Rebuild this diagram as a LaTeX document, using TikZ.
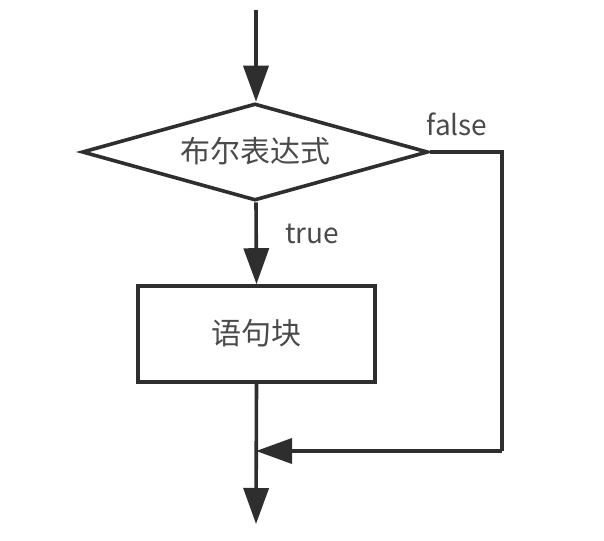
\documentclass[tikz,border=0pt]{standalone}
\usepackage{fontspec}
\setmainfont{Noto Sans CJK SC}
\usetikzlibrary{shapes.geometric,arrows.meta}
\definecolor{linec}{HTML}{2E2E2E}
\definecolor{textc}{HTML}{4A4A4A}
\newcommand{\ctrtext}[1]{\smash{\makebox[0pt]{\raisebox{-0.36em}{#1}}}}
\tikzset{
  flow/.style={draw=linec, line width=3.6pt},
  arr/.style={flow, -{Triangle[length=36pt,width=25pt]}},
  decbox/.style={diamond, draw=linec, line width=3.6pt, inner sep=0pt,
    minimum width=346pt, minimum height=97pt, text=textc,
    font=\fontsize{30pt}{33pt}\selectfont},
  blkbox/.style={rectangle, draw=linec, line width=3.6pt, inner sep=0pt,
    minimum width=237pt, minimum height=96pt, text=textc,
    font=\fontsize{30pt}{33pt}\selectfont},
  lbl/.style={text=textc, inner sep=0pt, anchor=base,
    font=\fontsize{28pt}{31pt}\selectfont}
}
\begin{document}
\begin{tikzpicture}[x=1pt,y=-1pt]
\useasboundingbox (0,0) rectangle (604,540);
\coordinate (top) at (256,10);
\node[decbox] (dec) at (255,152) {\ctrtext{布尔表达式}};
\node[blkbox] (blk) at (256.5,334) {\ctrtext{语句块}};
\coordinate (c1) at (502,152);
\coordinate (c2) at (502,451);
\coordinate (join) at (256,451);
\coordinate (end) at (256,524);
\draw[arr] (top) -- (top |- dec.north);
\draw[arr] (top |- dec.south) -- (blk.north);
\draw[flow] (dec.east) -- (c1) -- (c2);
\draw[arr] (c2) -- (join);
\draw[arr] (blk.south) -- (end);
\node[lbl] (lf) at (457,136) {false};
\node[lbl] (lt) at (312,243) {true};
\end{tikzpicture}
\end{document}
